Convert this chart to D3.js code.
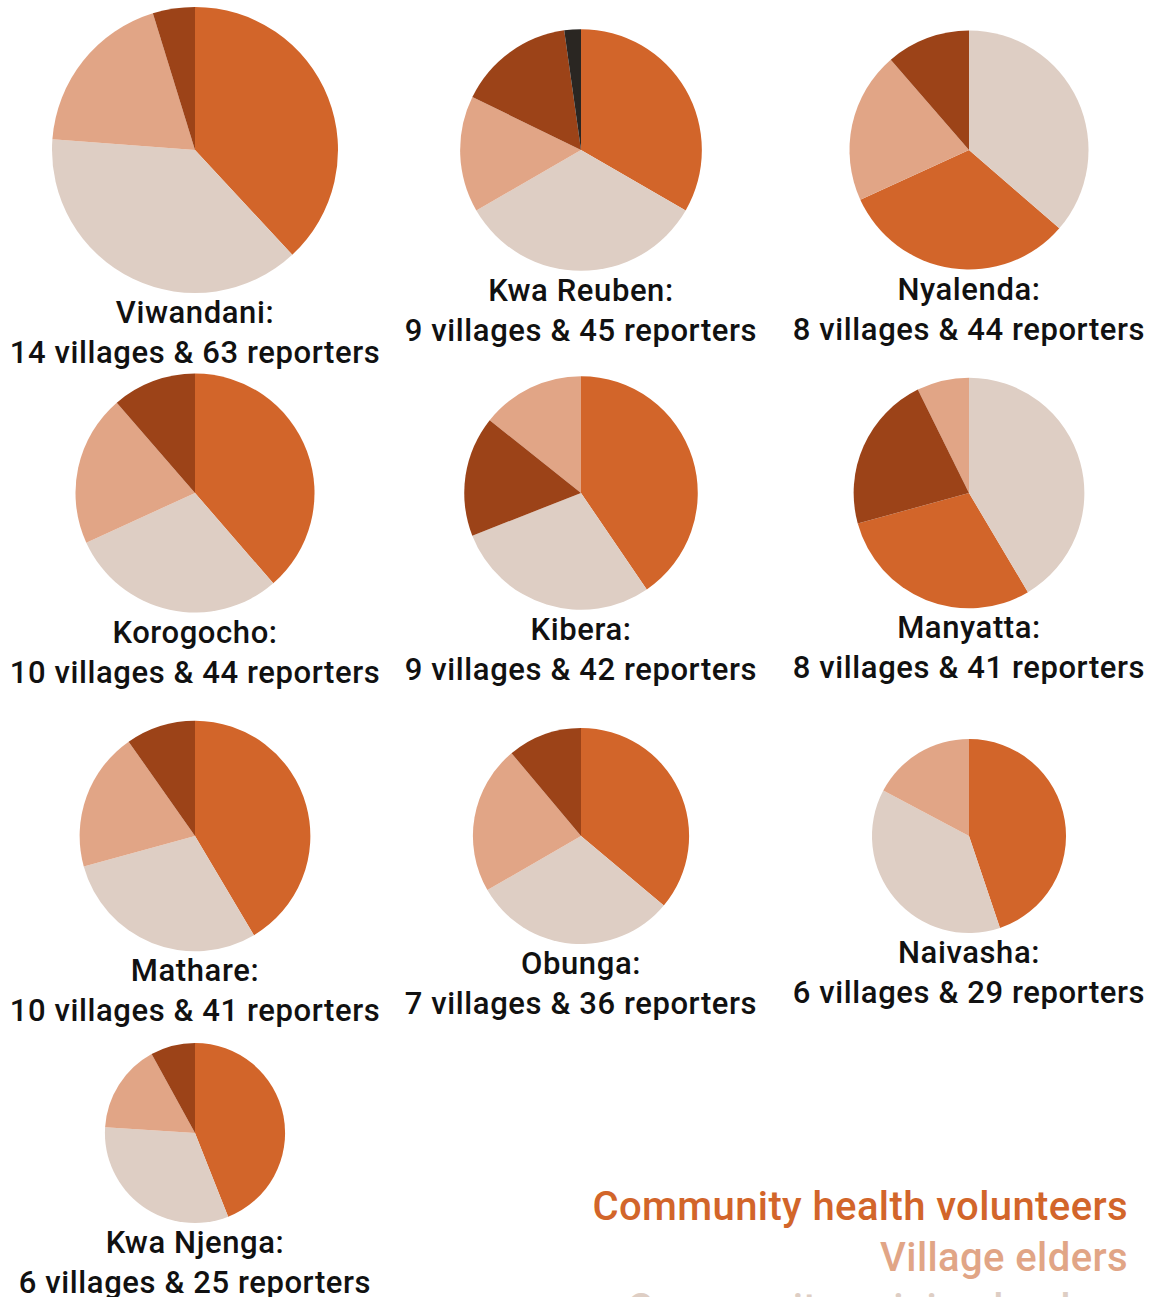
<!DOCTYPE html>
<html>
<head>
<meta charset="utf-8">
<script src="https://cdn.jsdelivr.net/npm/d3@7"></script>
<style>
  body { margin: 0; background: #fff; }
  svg { display: block; }
  text { font-family: Roboto, "Liberation Sans", sans-serif; }
</style>
</head>
<body>
<div id="chart"></div>
<script>
// sites, in reading order
const regions   = ['Viwandani', 'Kwa Reuben', 'Nyalenda', 'Korogocho', 'Kibera', 'Manyatta', 'Mathare', 'Obunga', 'Naivasha', 'Kwa Njenga'];
const villages  = [14, 9, 8, 10, 9, 8, 10, 7, 6, 6];
const reporters = [63, 45, 44, 44, 42, 41, 41, 36, 29, 25];

// reporters by type
const chv      = [24, 15, 14, 17, 17, 12, 17, 13, 13, 11];
const leaders  = [24, 15, 16, 13, 12, 17, 12, 11, 11, 8];
const elders   = [12, 7, 9, 9, 6, 3, 8, 8, 5, 4];
const otherA   = [3, 7, 5, 5, 7, 9, 4, 4, 0, 2];
const otherB   = [0, 1, 0, 0, 0, 0, 0, 0, 0, 0];

const seriesColors = ['#d2652a', '#decec4', '#e1a586', '#9c4318', '#2a2622'];
const legendLabels = ['Community health volunteers', 'Village elders', 'Community opinion leaders'];
const legendColors = ['#d2652a', '#e1a586', '#decec4'];

const width = 1157, height = 1297;
const colX = [195, 581, 969];
const rowY = [150, 493, 836, 1133];

const svg = d3.select('#chart').append('svg')
    .attr('width', width)
    .attr('height', height);

// pie area is proportional to the number of reporters
const rScale = d3.scaleSqrt().domain([0, d3.max(reporters)]).range([0, 143]);

const pie = d3.pie().value(d => d.v); // default sort: largest first

regions.forEach((name, i) => {
    const cx = colX[i % 3], cy = rowY[Math.floor(i / 3)];
    const r = rScale(reporters[i]);
    const vals = [chv[i], leaders[i], elders[i], otherA[i], otherB[i]]
        .map((v, k) => ({ v: v, k: k }));

    const g = svg.append('g').attr('transform', `translate(${cx},${cy})`);
    const arc = d3.arc().innerRadius(0).outerRadius(r);

    g.selectAll('path')
        .data(pie(vals).filter(d => d.data.v > 0))
        .enter()
        .append('path')
        .attr('d', arc)
        .attr('fill', d => seriesColors[d.data.k]);

    const lab = g.append('text')
        .attr('text-anchor', 'middle')
        .attr('font-size', 31)
        .attr('font-weight', 500)
        .attr('letter-spacing', 0.6)
        .attr('fill', '#111');
    lab.append('tspan').attr('x', 0).attr('y', r + 30).text(name + ':');
    lab.append('tspan').attr('x', 0).attr('y', r + 70)
        .text(`${villages[i]} villages & ${reporters[i]} reporters`);
});

// legend, right aligned at the bottom
svg.append('g').selectAll('text')
    .data(legendLabels)
    .enter()
    .append('text')
    .attr('x', 1128)
    .attr('y', (d, i) => 1220 + i * 51)
    .attr('text-anchor', 'end')
    .attr('font-size', 40)
    .attr('font-weight', 500)
    .attr('letter-spacing', 0.4)
    .attr('fill', (d, i) => legendColors[i])
    .text(d => d);
</script>
</body>
</html>
